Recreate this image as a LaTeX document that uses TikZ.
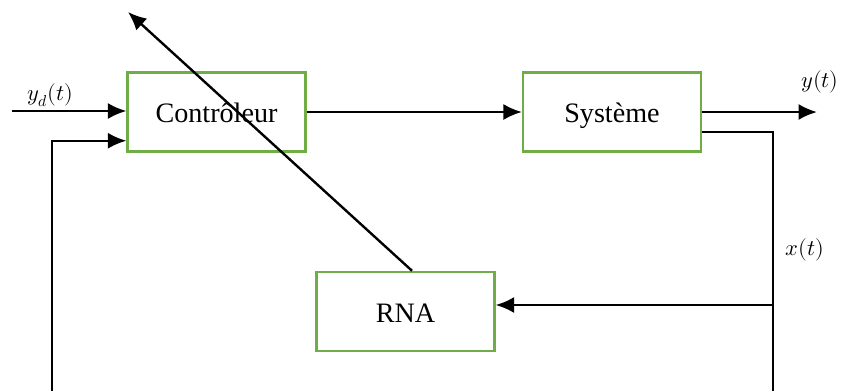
\documentclass[tikz,border=0pt]{standalone}
\usepackage{fontspec}
\usepackage{unicode-math}
\setmainfont{Liberation Serif}
\setmathfont{Latin Modern Math}
\usetikzlibrary{arrows.meta,calc}
\definecolor{boxgreen}{RGB}{112,173,71}
\tikzset{
  bloc/.style={draw=boxgreen,line width=1.6pt,minimum width=4.45cm,minimum height=1.98cm,
    text height=16pt,text depth=0.5pt,font=\fontsize{20}{24}\selectfont},
  fleche/.style={line width=1.7pt,-{Latex[length=4.6mm,width=4mm]}},
  trait/.style={line width=1.7pt},
  sig/.style={font=\fontsize{16}{19}\selectfont}
}

\begin{document}
\begin{tikzpicture}[x=0.025cm,y=-0.025cm]
    \useasboundingbox (0,0) rectangle (842,391);
    \node[bloc] (ctrl) at (216.5,112) {Contrôleur};
    \node[bloc] (sys) at (612,112) {Système};
    \node[bloc] (rna) at (405.5,311.5) {RNA};

    % consigne et retour
    \coordinate (entree) at (12,111);
    \draw[fleche] (entree) -- (ctrl.west |- entree);
    \node[sig] (yd) at (50,95) {$y_d(t)$};
    \coordinate (retour) at (52,391);
    \coordinate (fb) at ($(ctrl.south west)+(0,-12)$);
    \draw[fleche] (retour) |- (fb);

    \draw[fleche] (ctrl) -- (sys);

    % sorties du systeme
    \coordinate (sortie) at (817,112);
    \draw[fleche] (sys.east) -- (sortie);
    \node[sig] (y) at (820,82) {$y(t)$};
    \coordinate (xs) at ($(sys.south east)+(0,-21)$);
    \coordinate (bas) at (773,391);
    \draw[trait] (xs) -| (bas);
    \node[sig] (x) at (805,250) {$x(t)$};
    \coordinate (noeud) at (773,305);
    \draw[fleche] (noeud) -- (rna.east |- noeud);

    % reglage du controleur
    \coordinate (haut) at (128,12);
    \draw[fleche] ($(rna.north)+(6.5,0)$) -- (haut);
\end{tikzpicture}
\end{document}
